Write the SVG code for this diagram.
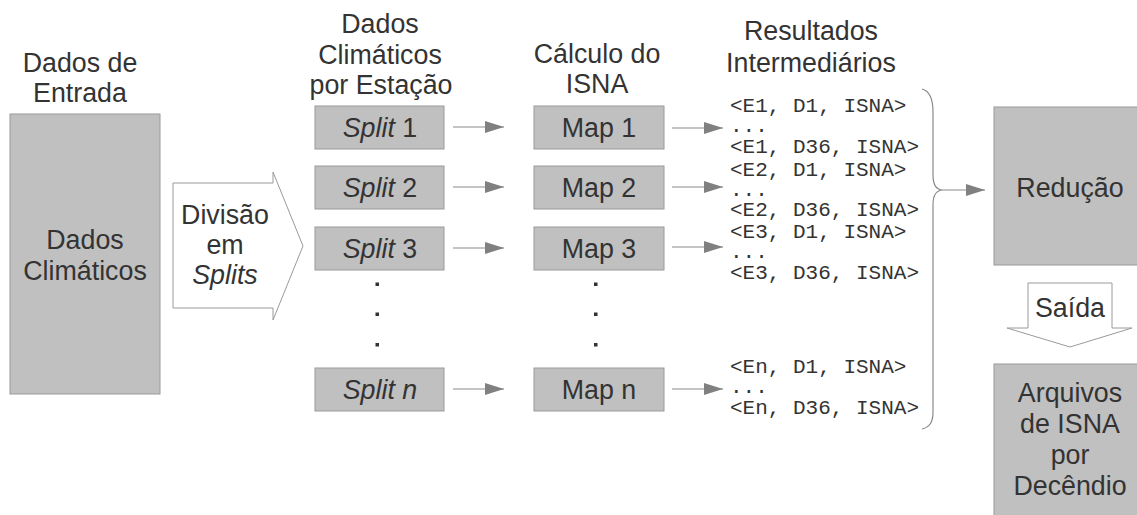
<svg xmlns="http://www.w3.org/2000/svg" width="1137" height="515" viewBox="0 0 1137 515">
<style>
.box{fill:#c0c0c0;stroke:#9a9a9a;stroke-width:1}
.shape{fill:#ffffff;stroke:#9a9a9a;stroke-width:1}
.t{font-family:"Liberation Sans",Arial,sans-serif;font-size:26.8px;fill:#333333;text-anchor:middle}
.m{font-family:"Liberation Mono","Courier New",monospace;font-size:21px;fill:#333333}
.c{stroke:#8a8a8a;stroke-width:1.2;fill:none}
.i{font-style:italic}
.dot{fill:#333333}
</style>
<defs>
<marker id="ah" markerUnits="userSpaceOnUse" markerWidth="20" markerHeight="13" refX="19" refY="6.5" orient="auto">
<path d="M0,0.5 L19,6.5 L0,12.5 z" fill="#808080"/>
</marker>
</defs>
<rect width="1137" height="515" fill="#ffffff"/>

<g id="headers">
<text class="t" x="80" y="72">Dados de</text>
<text class="t" x="80" y="102">Entrada</text>
<text class="t" x="380" y="33">Dados</text>
<text class="t" x="380" y="64">Climáticos</text>
<text class="t" x="381" y="94">por Estação</text>
<text class="t" x="597" y="63">Cálculo do</text>
<text class="t" x="597" y="93">ISNA</text>
<text class="t" x="811" y="40">Resultados</text>
<text class="t" x="811" y="72">Intermediários</text>
</g>

<g id="input">
<rect class="box" x="10" y="114" width="150" height="280"/>
<text class="t" x="85" y="249">Dados</text>
<text class="t" x="85" y="280">Climáticos</text>
</g>

<g id="divisao">
<path class="shape" d="M173,183 L273,183 L273,172 L303,246 L273,320 L273,308 L173,308 z"/>
<text class="t" x="225" y="224">Divisão</text>
<text class="t" x="225" y="254">em</text>
<text class="t i" x="225" y="284">Splits</text>
</g>

<g id="split1"><rect class="box" x="315" y="106" width="129" height="43"/><text class="t" x="380" y="137"><tspan class="i">Split</tspan> 1</text></g>
<g id="split2"><rect class="box" x="315" y="166" width="129" height="43"/><text class="t" x="380" y="197"><tspan class="i">Split</tspan> 2</text></g>
<g id="split3"><rect class="box" x="315" y="227" width="129" height="43"/><text class="t" x="380" y="258"><tspan class="i">Split</tspan> 3</text></g>
<g id="splitn"><rect class="box" x="315" y="368" width="129" height="43"/><text class="t i" x="380" y="399">Split n</text></g>
<g id="splitdots">
<rect class="dot" x="375.5" y="282.5" width="3.5" height="3.5"/>
<rect class="dot" x="375.5" y="312.5" width="3.5" height="3.5"/>
<rect class="dot" x="375.5" y="343" width="3.5" height="3.5"/>
</g>

<g id="map1"><rect class="box" x="534" y="106" width="130" height="43"/><text class="t" x="599" y="137">Map 1</text></g>
<g id="map2"><rect class="box" x="534" y="166" width="130" height="43"/><text class="t" x="599" y="197">Map 2</text></g>
<g id="map3"><rect class="box" x="534" y="227" width="130" height="43"/><text class="t" x="599" y="258">Map 3</text></g>
<g id="mapn"><rect class="box" x="534" y="368" width="130" height="43"/><text class="t" x="599" y="399">Map n</text></g>
<g id="mapdots">
<rect class="dot" x="594" y="282.5" width="3.5" height="3.5"/>
<rect class="dot" x="594" y="312.5" width="3.5" height="3.5"/>
<rect class="dot" x="594" y="343" width="3.5" height="3.5"/>
</g>

<g id="results">
<text class="m" x="730" y="112">&lt;E1, D1, ISNA&gt;</text>
<text class="m" x="730" y="132">...</text>
<text class="m" x="730" y="153">&lt;E1, D36, ISNA&gt;</text>
<text class="m" x="730" y="176">&lt;E2, D1, ISNA&gt;</text>
<text class="m" x="730" y="196">...</text>
<text class="m" x="730" y="216">&lt;E2, D36, ISNA&gt;</text>
<text class="m" x="730" y="238">&lt;E3, D1, ISNA&gt;</text>
<text class="m" x="730" y="258">...</text>
<text class="m" x="730" y="279">&lt;E3, D36, ISNA&gt;</text>
<text class="m" x="730" y="373">&lt;En, D1, ISNA&gt;</text>
<text class="m" x="730" y="393">...</text>
<text class="m" x="730" y="414">&lt;En, D36, ISNA&gt;</text>
</g>

<g id="reducao">
<rect class="box" x="994" y="107" width="150" height="158"/>
<text class="t" x="1070" y="197">Redução</text>
</g>

<g id="saida">
<path class="shape" d="M1028,283 L1112,283 L1112,328 L1132,328 L1070,347 L1007,328 L1028,328 z"/>
<text class="t" x="1070" y="317">Saída</text>
</g>

<g id="arquivos">
<rect class="box" x="994" y="364" width="150" height="160"/>
<text class="t" x="1070" y="402">Arquivos</text>
<text class="t" x="1070" y="433">de ISNA</text>
<text class="t" x="1070" y="464">por</text>
<text class="t" x="1070" y="495">Decêndio</text>
</g>

<g id="connectors">
<line class="c" x1="453" y1="127" x2="504" y2="127" marker-end="url(#ah)"/>
<line class="c" x1="453" y1="187" x2="504" y2="187" marker-end="url(#ah)"/>
<line class="c" x1="453" y1="248" x2="504" y2="248" marker-end="url(#ah)"/>
<line class="c" x1="453" y1="389" x2="504" y2="389" marker-end="url(#ah)"/>
<line class="c" x1="672" y1="128" x2="723" y2="128" marker-end="url(#ah)"/>
<line class="c" x1="672" y1="187" x2="723" y2="187" marker-end="url(#ah)"/>
<line class="c" x1="672" y1="247" x2="723" y2="247" marker-end="url(#ah)"/>
<line class="c" x1="672" y1="389" x2="723" y2="389" marker-end="url(#ah)"/>
<path class="c" d="M922,89 C930,91 933,100 933,112 L933,175 C933,185 936,190 943,190 C936,190 933,195 933,205 L933,412 C933,422 930,427 922,429"/>
<line class="c" x1="943" y1="190" x2="985" y2="190" marker-end="url(#ah)"/>
</g>
</svg>
